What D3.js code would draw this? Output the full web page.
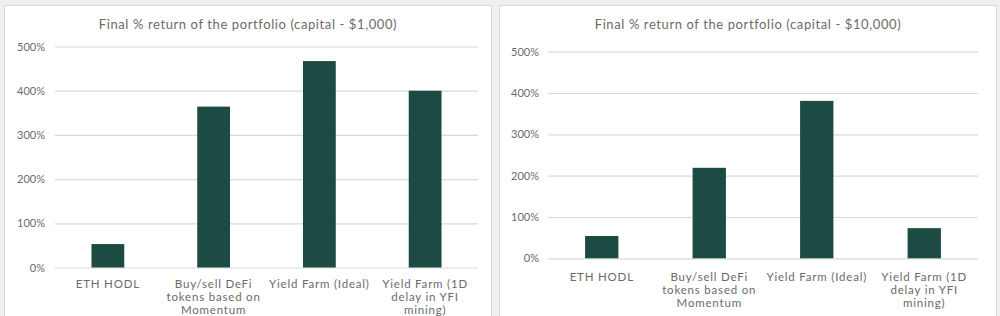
<!DOCTYPE html>
<html>
<head>
<meta charset="utf-8">
<script src="https://cdn.jsdelivr.net/npm/d3@7"></script>
<style>
  html, body { margin: 0; padding: 0; background: #efefef; }
  svg { display: block; }
  text { font-family: "Lato", "Open Sans", sans-serif; fill: #6b6b6b; }
</style>
</head>
<body>
<svg id="chart" width="1000" height="316"></svg>
<script>
// Strategy names, split into the lines shown under each bar
const categories = [
  "ETH HODL",
  "Buy/sell DeFi tokens based on Momentum",
  "Yield Farm (Ideal)",
  "Yield Farm (1D delay in YFI mining)"
];
const categoryLines = [
  ["ETH HODL"],
  ["Buy/sell DeFi", "tokens based on", "Momentum"],
  ["Yield Farm (Ideal)"],
  ["Yield Farm (1D", "delay in YFI", "mining)"]
];

// Final % return per strategy
const returnsCapital1k = [53, 364, 467, 400];
const returnsCapital10k = [54, 219, 381, 73];

// Value axis ticks (percent)
const yTicks = [0, 100, 200, 300, 400, 500];

const titles = [
  "Final % return of the portfolio (capital - $1,000)",
  "Final % return of the portfolio (capital - $10,000)"
];

const BAR_COLOR = "#1b4b43";
const GRID_COLOR = "#d9d9d9";

const svg = d3.select("#chart");

// Panel frames and plot areas
const panels = [
  { box: [4.5, 5.5, 487, 330], plot: { x0: 55, x1: 478, y0: 267.5, y1: 46.5 },
    titleY: 29, tickX: 45, labelY: 288, values: returnsCapital1k, title: titles[0] },
  { box: [499.5, 5.5, 497, 330], plot: { x0: 548, x1: 978, y0: 258.3, y1: 51.7 },
    titleY: 29, tickX: 539, labelY: 281, values: returnsCapital10k, title: titles[1] }
];

panels.forEach(p => {
  const g = svg.append("g");

  g.append("rect")
    .attr("x", p.box[0]).attr("y", p.box[1])
    .attr("width", p.box[2]).attr("height", p.box[3])
    .attr("fill", "#ffffff")
    .attr("stroke", "#d6d6d6")
    .attr("stroke-width", 1);

  const x = d3.scaleBand()
    .domain(categories)
    .range([p.plot.x0, p.plot.x1])
    .paddingInner(0.69)
    .paddingOuter(0.345);

  const y = d3.scaleLinear()
    .domain([0, 500])
    .range([p.plot.y0, p.plot.y1]);

  // Title
  g.append("text")
    .attr("x", (p.box[0] + p.box[0] + p.box[2]) / 2)
    .attr("y", p.titleY)
    .attr("text-anchor", "middle")
    .style("font-size", "13px")
    .style("letter-spacing", "0.6px")
    .attr("fill", "#767676")
    .text(p.title);

  // Horizontal gridlines with percent labels
  const yAxis = d3.axisLeft(y)
    .tickValues(yTicks)
    .tickSize(-(p.plot.x1 - p.plot.x0))
    .tickPadding(p.plot.x0 - p.tickX)
    .tickFormat(d => d + "%");

  const ya = g.append("g")
    .attr("transform", `translate(${p.plot.x0},0)`)
    .call(yAxis);
  ya.select(".domain").remove();
  ya.selectAll(".tick line").attr("stroke", GRID_COLOR).attr("stroke-width", 1.2);
  ya.selectAll(".tick text")
    .style("font-size", "11px")
    .style("font-family", "Lato, sans-serif")
    .attr("fill", "#7a7a7a");

  // Bars
  g.append("g").selectAll("rect")
    .data(p.values)
    .join("rect")
    .attr("x", (d, i) => x(categories[i]))
    .attr("y", d => y(d))
    .attr("width", x.bandwidth())
    .attr("height", d => y(0) - y(d))
    .attr("fill", BAR_COLOR);

  // Category labels
  const labels = g.append("g").selectAll("text")
    .data(categories)
    .join("text")
    .attr("x", d => x(d) + x.bandwidth() / 2)
    .attr("y", p.labelY)
    .attr("text-anchor", "middle")
    .style("font-size", "11.5px")
    .style("letter-spacing", "0.8px")
    .attr("fill", "#777777");
  labels.each(function(d, i) {
    const t = d3.select(this);
    categoryLines[i].forEach((line, k) => {
      t.append("tspan")
        .attr("x", x(d) + x.bandwidth() / 2)
        .attr("dy", k === 0 ? 0 : 12.8)
        .text(line);
    });
  });
});
</script>
</body>
</html>
